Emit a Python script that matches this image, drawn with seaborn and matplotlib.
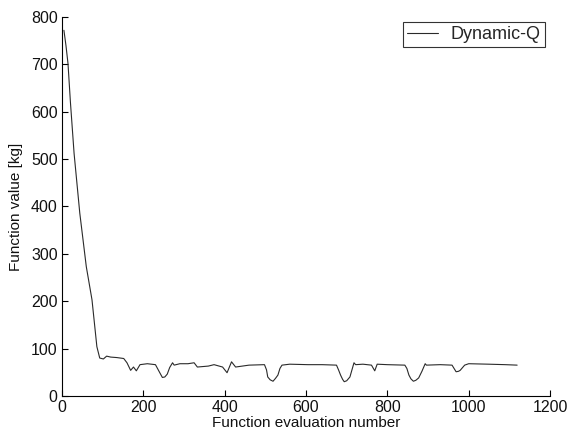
import matplotlib
matplotlib.use("Agg")
import matplotlib.pyplot as plt
import seaborn as sns
import pandas as pd

evals = [5, 10, 15, 21, 30, 44, 60, 74, 86, 93, 102, 110, 120, 135, 152, 160, 169, 176, 183, 192,
         210, 230, 240, 247, 253, 259, 265, 272, 276, 290, 310, 325, 333, 360, 374, 395, 406, 417,
         427, 460, 498, 503, 506, 512, 519, 525, 531, 536, 541, 560, 605, 640, 675, 680, 685, 690,
         694, 700, 708, 713, 718, 722, 740, 761, 769, 775, 800, 843, 848, 853, 858, 864, 870, 877,
         885, 893, 896, 930, 959, 964, 969, 975, 979, 985, 990, 1000, 1049, 1090, 1119]
fvals = [772, 740, 702, 620, 512, 386, 273, 203, 104, 80, 78, 84, 82, 81, 79, 70, 54, 61, 53, 66,
         68, 66, 50, 39, 40, 46, 60, 70, 65, 68, 68, 70, 61, 63, 66, 61, 49, 72,
         61, 65, 66, 55, 40, 34, 31, 37, 44, 58, 65, 67, 66, 66, 65, 55, 44, 35,
         30, 32, 40, 55, 70, 66, 67, 65, 53, 67, 66, 65, 58, 44, 36, 31, 33, 38,
         52, 68, 65, 66, 65, 58, 51, 52, 54, 60, 65, 68, 67, 66, 65]
series_name = "Dynamic-Q"
xticks = [0, 200, 400, 600, 800, 1000, 1200]
yticks = [0, 100, 200, 300, 400, 500, 600, 700, 800]

sns.set_theme(style="ticks")
plt.rcParams['font.family'] = ['Liberation Sans', 'DejaVu Sans']
plt.rcParams['xtick.direction'] = 'in'
plt.rcParams['ytick.direction'] = 'in'

df = pd.DataFrame({"x": evals, "y": fvals, "name": series_name})

fig = plt.figure(figsize=(5.73, 4.37), dpi=100)
ax = fig.add_axes([0.108, 0.094, 0.852, 0.867])
sns.lineplot(data=df, x="x", y="y", hue="name", palette=["#2a2a2a"], sort=False,
             linewidth=0.8, ax=ax, estimator=None)
ax.set_xlim(0, 1200)
ax.set_ylim(0, 800)
ax.set_xticks(xticks)
ax.set_yticks(yticks)
ax.tick_params(axis='both', labelsize=11.5, length=4, width=0.8, color='black', labelcolor='#111111', pad=3)
ax.set_xlabel("Function evaluation number", fontsize=11, labelpad=1, color='#111111')
ax.set_ylabel("Function value [kg]", fontsize=11, labelpad=6, color='#111111')
sns.despine(ax=ax)
for s in ['left', 'bottom']:
    ax.spines[s].set_color('black')
    ax.spines[s].set_linewidth(0.8)
leg = ax.legend(loc='upper right', fontsize=13, frameon=True, fancybox=False,
                edgecolor='black', handlelength=1.7, handletextpad=0.7,
                borderaxespad=0.3, borderpad=0.22)
leg.get_frame().set_linewidth(0.8)
fig.savefig("out.png", dpi=100)
